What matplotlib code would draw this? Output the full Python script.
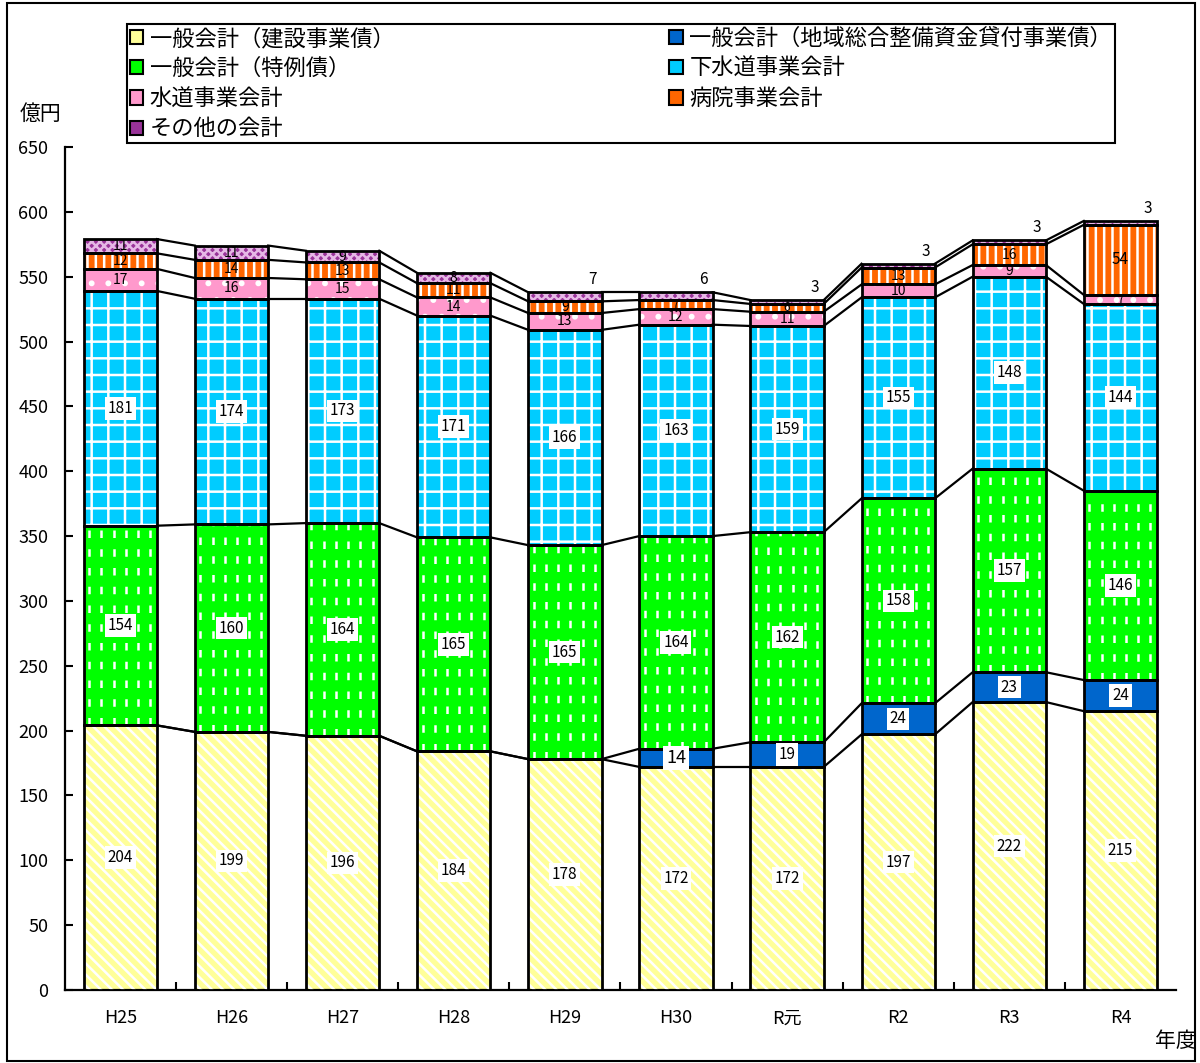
import numpy as np
import matplotlib
matplotlib.use("Agg")
import matplotlib.pyplot as plt
from matplotlib.lines import Line2D
from matplotlib.patches import Patch, Rectangle

plt.rcParams["font.family"] = ["Noto Sans CJK JP", "DejaVu Sans"]
plt.rcParams["hatch.linewidth"] = 1.8

years = ["H25", "H26", "H27", "H28", "H29", "H30", "R元", "R2", "R3", "R4"]

series_names = [
    "一般会計（建設事業債）",
    "一般会計（地域総合整備資金貸付事業債）",
    "一般会計（特例債）",
    "下水道事業会計",
    "水道事業会計",
    "病院事業会計",
    "その他の会計",
]

kensetsu = [204, 199, 196, 184, 178, 172, 172, 197, 222, 215]
chiiki = [0, 0, 0, 0, 0, 14, 19, 24, 23, 24]
tokurei = [154, 160, 164, 165, 165, 164, 162, 158, 157, 146]
gesuido = [181, 174, 173, 171, 166, 163, 159, 155, 148, 144]
suido = [17, 16, 15, 14, 13, 12, 11, 10, 9, 7]
byoin = [12, 14, 13, 11, 9, 7, 6, 13, 16, 54]
sonota = [11, 11, 9, 8, 7, 6, 3, 3, 3, 3]

values = [kensetsu, chiiki, tokurei, gesuido, suido, byoin, sonota]

faces = ["#FFFF99", "#0066CC", "#00FF00", "#00CCFF", "#FF99CC", "#FF6600", "#993399"]
hatches = ["\\\\\\", None, None, "+", ".", "||", "xxxx"]
hatch_cols = ["white", None, None, "white", "white", "white", "#E6B8E6"]
boxed = [True, True, True, True, False, False, False]

fig = plt.figure(figsize=(12, 10.63), dpi=100)
ax = fig.add_axes([0.054, 0.0687, 0.926, 0.793])

x = np.arange(len(years))
w = 0.66
bottom = np.zeros(len(years))
tops = []

for k, vals in enumerate(values):
    vals = np.array(vals, dtype=float)
    bars = ax.bar(x, vals, w, bottom=bottom, color=faces[k], linewidth=0, zorder=2)
    if hatches[k]:
        ax.bar(x, vals, w, bottom=bottom, fill=False, edgecolor=hatch_cols[k],
               hatch=hatches[k], linewidth=0, zorder=3)
    if k == 2:
        # white dashed marks inside the green bars
        for rect in bars:
            x0 = rect.get_x()
            y0 = rect.get_y()
            for xs in np.arange(x0 + 0.05, x0 + rect.get_width(), 0.11):
                ln = Line2D([xs, xs], [y0, y0 + rect.get_height()], color="white",
                            linewidth=1.8, linestyle=(0, (3, 4.5)), zorder=3)
                ax.add_line(ln)
                ln.set_clip_path(rect)
    ax.bar(x, vals, w, bottom=bottom, fill=False, edgecolor="black",
           linewidth=2, zorder=4)
    for i, v in enumerate(vals):
        if v <= 0:
            continue
        if k == 6 and i >= 4:
            ax.text(i + w / 2 - 0.08, bottom[i] + v + 3, f"{int(v)}",
                    ha="center", va="bottom", fontsize=11, zorder=6)
            continue
        kw = {}
        if boxed[k]:
            kw["bbox"] = dict(facecolor="white", edgecolor="none", pad=2)
        fs = 11 if boxed[k] else 10
        if not boxed[k] and v < 8:
            fs = 8.5
        if k == 1 and i == 5:
            fs = 13
        if k == 5 and i == 9:
            fs = 11
        ax.text(i, bottom[i] + v / 2, f"{int(v)}", ha="center", va="center",
                fontsize=fs, zorder=6, **kw)
    bottom = bottom + vals
    tops.append(bottom.copy())

# series lines between bars
for cum in tops:
    for i in range(len(years) - 1):
        ax.plot([i + w / 2, i + 1 - w / 2], [cum[i], cum[i + 1]],
                color="black", linewidth=1.6, zorder=5)

ax.set_xlim(-0.5, len(years) - 0.5)
ax.set_ylim(0, 650)
ax.set_yticks(np.arange(0, 651, 50))
ax.set_xticks(x)
ax.set_xticklabels(years)
ax.set_xticks(np.arange(0.5, len(years) - 1, 1), minor=True)
ax.tick_params(axis="x", which="major", length=0, pad=14, labelsize=13)
ax.tick_params(axis="x", which="minor", direction="in", length=6, width=1.5)
ax.tick_params(axis="y", direction="in", length=6, width=1.5, labelsize=13, pad=12)
ax.spines["top"].set_visible(False)
ax.spines["right"].set_visible(False)
ax.spines["left"].set_linewidth(1.6)
ax.spines["bottom"].set_linewidth(1.6)

fig.text(0.034, 0.893, "億円", fontsize=15, ha="center", va="center")
fig.text(0.98, 0.021, "年度", fontsize=15, ha="center", va="center")

order = [0, 2, 4, 6, 1, 3, 5]
handles = [Patch(facecolor=faces[k], edgecolor="black", linewidth=1.5) for k in order]
labels = [series_names[k] for k in order]
leg = fig.legend(handles, labels, ncol=2, loc="upper left",
                 bbox_to_anchor=(0.106, 0.977, 0.823, 0.0), mode="expand",
                 borderaxespad=0, fontsize=16, handlelength=0.6, handleheight=0.6,
                 handletextpad=0.3, labelspacing=0.32, borderpad=0.12,
                 fancybox=False, edgecolor="black", framealpha=1)
leg.get_frame().set_linewidth(1.5)

fig.patches.append(Rectangle((0.006, 0.002), 0.99, 0.995, transform=fig.transFigure,
                             fill=False, edgecolor="black", linewidth=1.5))

fig.savefig("out.png", dpi=100)
